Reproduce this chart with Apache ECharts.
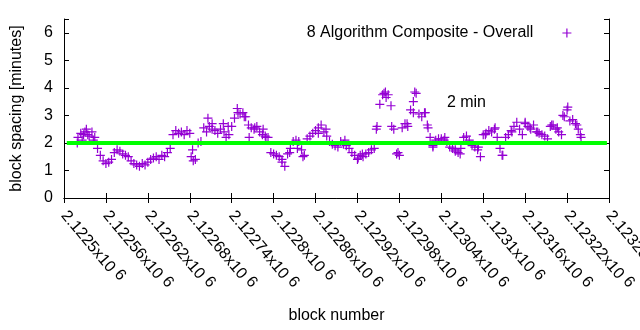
<!DOCTYPE html>
<html><head><meta charset="utf-8">
<script src="https://cdn.jsdelivr.net/npm/echarts@6/dist/echarts.min.js"></script>
<style>html,body{margin:0;padding:0;background:#fff}#c{width:640px;height:330px}</style>
</head><body><div id="c"></div>
<script>
// ---- data ----
const blocks = [
2122520,2122524,2122528,2122532,2122536,2122540,2122544,2122548,2122552,2122556,
2122560,2122564,2122568,2122572,2122576,2122580,2122584,2122588,2122592,2122596,
2122600,2122604,2122608,2122612,2122616,2122620,2122624,2122628,2122632,2122636,
2122640,2122644,2122648,2122652,2122656,2122660,2122664,2122668,2122672,2122676,
2122680,2122684,2122688,2122692,2122696,2122700,2122704,2122708,2122712,2122716,
2122720,2122724,2122728,2122732,2122736,2122740,2122744,2122748,2122752,2122756,
2122760,2122764,2122768,2122772,2122776,2122780,2122784,2122788,2122792,2122796,
2122800,2122804,2122808,2122812,2122816,2122820,2122824,2122828,2122832,2122836,
2122840,2122844,2122848,2122852,2122856,2122860,2122864,2122868,2122872,2122876,
2122880,2122884,2122888,2122892,2122896,2122900,2122904,2122908,2122912,2122916,
2122920,2122924,2122928,2122932,2122936,2122940,2122944,2122948,2122952,2122956,
2122960,2122964,2122968,2122972,2122976,2122980,2122984,2122988,2122992,2122996,
2123000,2123004,2123008,2123012,2123016,2123020,2123024,2123028,2123032,2123036,
2123040,2123044,2123048,2123052,2123056,2123060,2123064,2123068,2123072,2123076,
2123080,2123084,2123088,2123092,2123096,2123100,2123104,2123108,2123112,2123116,
2123120,2123124,2123128,2123132,2123136,2123140,2123144,2123148,2123152,2123156,
2123160,2123164,2123168,2123172,2123176,2123180,2123184,2123188,2123192,2123196,
2123200,2123204,2123208,2123212,2123216,2123220,2123224,2123228,2123232,2123236,
2123240];
const spacing = [
2.2,2.35,2.3,2.5,2.25,2.4,2.2,1.8,1.55,1.35,
1.25,1.3,1.4,1.65,1.75,1.7,1.6,1.55,1.5,1.35,
1.25,1.2,1.15,1.25,1.2,1.3,1.4,1.45,1.5,1.4,
1.55,1.5,1.65,1.8,2.3,2.45,2.35,2.4,2.3,2.45,
2.35,1.75,1.4,2.0,2.05,2.55,2.4,2.6,2.5,2.45,
2.35,2.5,2.7,2.2,2.3,2.6,2.9,3.25,3.05,3.1,
2.95,2.65,2.55,2.5,2.6,2.4,2.3,2.25,2.2,1.65,
1.6,1.55,1.5,1.3,1.15,1.6,1.8,2.05,2.1,2.05,
1.75,1.55,2.15,2.25,2.35,2.45,2.55,2.65,2.4,2.25,
2.05,1.95,1.9,1.85,2.05,1.95,1.9,1.8,1.65,1.55,
1.4,1.55,1.5,1.6,1.65,1.75,1.8,2.6,3.4,3.75,
3.85,3.75,3.35,2.5,1.6,1.55,2.55,2.7,2.6,3.2,
3.5,3.8,3.05,2.95,3.1,2.65,2.2,1.9,2.1,2.15,
2.15,2.1,2.05,1.85,1.8,1.7,1.65,1.8,2.2,2.25,
2.1,1.9,1.85,1.75,1.5,2.3,2.35,2.45,2.4,2.5,
2.2,1.8,1.55,2.2,2.3,2.45,2.6,2.75,2.5,2.3,
2.75,2.6,2.5,2.65,2.4,2.35,2.3,2.25,2.15,2.6,
2.65,2.5,2.4,2.3,2.95,3.2,2.8,2.85,2.7,2.5,
2.2];
const extraBlocks = [
2122526,2122530,2122534,2122542,2122519,2122682,2122685,2122706,2122712,2122729,
2122735,2122758,2122749,2122765,2122773,2122785,2122789,2122812,2122823,2122834,
2122842,2122864,2122875,2122902,2122921,2122927,2122947,2122958,2122961,2122969,
2122978,2122991,2123000,2123002,2123017,2123021,2123028,2123045,2123060,2123067,
2123093,2123103,2123117,2123127,2123141,2123160,2123167,2123178,2123198,2123206,
2123214,2123221,2123234,2123239];
const extraSpacing = [
2.1,2.4,2.3,2.1,2.0,1.5,1.35,2.9,2.7,2.4,
2.6,2.95,3.1,2.2,2.55,2.5,2.2,1.4,1.65,1.8,
1.5,2.35,2.5,2.1,1.45,1.6,2.5,3.8,3.65,2.6,
1.65,2.7,3.1,3.85,3.1,2.55,1.85,2.2,1.75,1.6,
1.85,2.3,2.55,1.55,2.4,2.7,2.55,2.4,2.65,2.55,
3.0,3.3,2.65,2.3];
const seriesName = '8 Algorithm Composite - Overall';
const xRange = [2122500, 2123280];
const xInterval = 60;
const yRange = [0, 6.5];
const yInterval = 1;
const targetBlocks = [2122504, 2123277];
const targetValue = 2;
const targetLabel = '2 min';
const targetLabelAt = [2123048, 3.45];
const xName = 'block number';
const yName = 'block spacing [minutes]';

// ---- chart ----
const FONT = "'Liberation Sans', Arial, sans-serif";
const FS = 16;
const PURPLE = '#9400d3';
const plus = 'path://M0,5L10,5M5,0L5,10';

const pts = blocks.map((b, i) => [b, spacing[i]])
  .concat(extraBlocks.map((b, i) => [b, extraSpacing[i]]));

function xFmt(v) {
  const s = parseFloat((v / 1e6).toFixed(6)).toString();
  return s + 'x10 {s|6}';
}

const axisCommon = {
  axisLine: {show: true, lineStyle: {color: '#000', width: 1}},
  axisTick: {show: true, inside: true, length: 5, lineStyle: {color: '#000'}},
  splitLine: {show: false}
};

const chart = echarts.init(document.getElementById('c'), null, {renderer: 'canvas'});
chart.setOption({
  animation: false,
  backgroundColor: '#fff',
  textStyle: {fontFamily: FONT},
  grid: {left: 64, right: 31, top: 19, bottom: 132, containLabel: false, outerBoundsMode: 'none'},
  legend: {
    data: [{name: seriesName}],
    right: 63, top: 20, align: 'right', orient: 'horizontal',
    itemWidth: 9, itemHeight: 9, icon: plus,
    itemStyle: {color: PURPLE, borderColor: PURPLE, borderWidth: 1.2},
    textStyle: {fontSize: FS, color: '#000', fontFamily: FONT, padding: [0, 24, 0, 0]}
  },
  xAxis: [
    Object.assign({
      type: 'value', position: 'bottom', min: xRange[0], max: xRange[1], interval: xInterval,
      name: xName, nameLocation: 'middle', nameGap: 110,
      nameTextStyle: {fontSize: FS, color: '#000', fontFamily: FONT},
      axisLabel: {
        show: true, rotate: -50, margin: 15, color: '#000', fontSize: FS, fontFamily: FONT,
        showMinLabel: true, showMaxLabel: true, interval: 0,
        formatter: xFmt,
        rich: {s: {fontSize: FS, color: '#000', fontFamily: FONT, padding: [0, 0, 6, 0]}}
      }
    }, axisCommon),
    Object.assign({
      type: 'value', position: 'top', min: xRange[0], max: xRange[1], interval: xInterval,
      axisLabel: {show: false}
    }, axisCommon)
  ],
  yAxis: [
    Object.assign({
      type: 'value', position: 'left', min: yRange[0], max: yRange[1], interval: yInterval,
      name: yName, nameLocation: 'middle', nameGap: 39,
      nameTextStyle: {fontSize: FS, color: '#000', fontFamily: FONT},
      axisLabel: {
        show: true, margin: 11, color: '#000', fontSize: FS, fontFamily: FONT,
        formatter: v => Number.isInteger(v) ? String(v) : ''
      }
    }, axisCommon),
    Object.assign({
      type: 'value', position: 'right', min: yRange[0], max: yRange[1], interval: yInterval,
      axisLabel: {show: false}
    }, axisCommon)
  ],
  series: [
    {
      name: seriesName, type: 'scatter', xAxisIndex: 0, yAxisIndex: 0,
      symbol: plus, symbolSize: 9, z: 2,
      itemStyle: {color: PURPLE, borderColor: PURPLE, borderWidth: 1.2, opacity: 1},
      emphasis: {disabled: true},
      data: pts
    },
    {
      name: targetLabel, type: 'line', xAxisIndex: 0, yAxisIndex: 0, z: 3,
      symbol: 'none', lineStyle: {color: '#00ff00', width: 4},
      data: targetBlocks.map(b => [b, targetValue]),
      markPoint: {
        symbol: 'circle', symbolSize: 0, silent: true,
        label: {show: true, position: 'right', distance: 0, formatter: targetLabel,
                color: '#000', fontSize: FS, fontFamily: FONT},
        data: [{coord: targetLabelAt}]
      }
    }
  ]
});
</script></body></html>
